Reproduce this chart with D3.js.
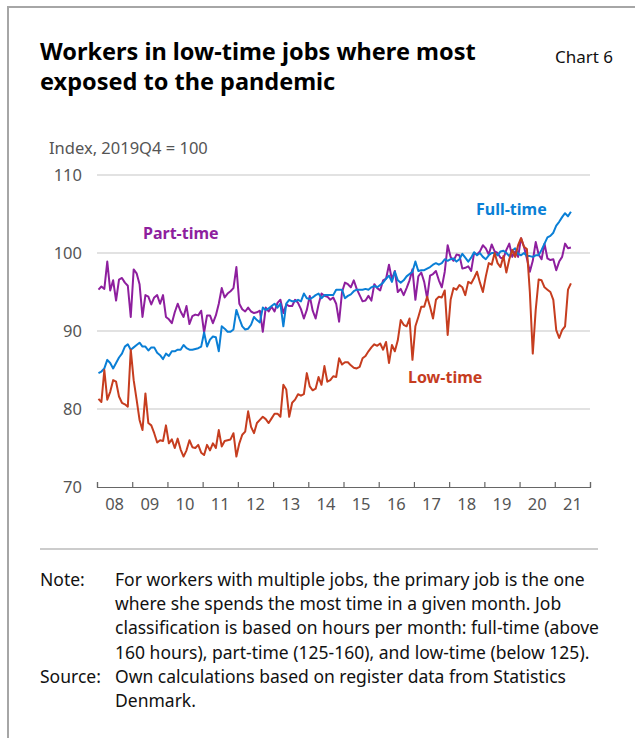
<!DOCTYPE html>
<html lang="en">
<head>
  <meta charset="UTF-8">
  <title>Workers in low-time jobs where most exposed to the pandemic</title>
  <script src="https://d3js.org/d3.v7.min.js"></script>
  <style>
    body {
      margin: 0;
      background: #fff;
      font-family: "Noto Sans", "Open Sans", Arial, sans-serif;
    }
    svg { display: block; }
  </style>
</head>
<body>
  <div id="chart"></div>
  <script>
    // monthly index, Jan 2008 .. Jun 2021 (2019Q4 = 100)
    const startYear = 2008;
    const yearLabels = ['08', '09', '10', '11', '12', '13', '14', '15', '16', '17', '18', '19', '20', '21'];
    const yTicks = [70, 80, 90, 100, 110];

    const partTime = [
      95.3, 95.7, 95.4, 98.9, 95.2, 96.5, 93.9, 96.6, 96.8, 96.2,
      95.8, 91.8, 97.9, 97.4, 96.0, 91.8, 94.6, 94.4, 93.4, 94.3,
      94.6, 93.5, 94.6, 91.8, 91.5, 91.0, 92.4, 93.5, 92.5, 91.8,
      93.2, 90.9, 91.9, 92.1, 92.0, 92.6, 89.8, 92.0, 92.0, 91.0,
      92.0, 93.5, 95.5, 94.3, 94.8, 95.1, 95.5, 98.2, 93.5, 92.8,
      92.5, 93.0, 92.5, 92.3, 92.4, 92.6, 89.9, 93.0, 92.5, 93.1,
      92.5, 93.6, 94.0, 92.3, 93.4, 93.2, 93.2, 94.0, 93.6, 92.8,
      91.6, 92.7, 94.5, 92.6, 91.6, 93.4, 94.8, 94.5, 94.4, 94.0,
      94.3, 93.5, 91.2, 95.0, 96.2, 96.0, 95.6, 96.5, 95.4, 94.6,
      93.8, 93.9, 94.5, 93.9, 96.0, 95.5, 95.2, 96.5, 96.7, 98.5,
      96.6, 97.7, 95.0, 95.4, 94.6, 95.5, 96.5, 97.9, 94.0, 97.0,
      97.5, 96.3, 94.2, 97.1, 97.3, 97.7, 96.5, 95.6, 97.6, 101.0,
      99.5, 99.0, 99.8, 99.7, 98.0, 98.1, 98.3, 97.7, 100.0, 99.8,
      100.2, 101.0, 100.6, 99.8, 101.1, 100.2, 100.0, 99.4, 99.3, 100.4,
      101.2, 99.5, 100.2, 99.5, 101.9, 100.8, 99.3, 97.6, 99.0, 101.4,
      99.8, 99.2, 101.2, 99.3, 99.1, 99.2, 97.8, 98.9, 99.5, 101.2,
      100.6, 100.7
    ];

    const fullTime = [
      84.6, 84.8, 85.2, 86.3, 85.9, 85.2, 85.9, 86.6, 87.1, 88.0,
      88.3, 87.6, 87.9, 88.2, 88.5, 88.0, 88.0, 87.5, 87.9, 87.9,
      87.2, 86.9, 86.4, 87.1, 86.8, 87.4, 87.4, 87.6, 87.6, 88.2,
      87.8, 87.6, 87.6, 87.7, 87.8, 88.0, 89.8, 88.0, 88.9, 89.3,
      89.2, 87.4, 90.6, 90.3, 89.9, 89.9, 90.2, 92.7, 91.6, 90.6,
      90.2, 90.3, 90.8, 91.8, 91.4, 91.1, 93.0, 92.7, 92.9, 93.2,
      93.5, 93.0, 93.5, 90.6, 93.5, 94.0, 93.8, 93.8, 94.0, 93.8,
      94.8, 94.2, 94.1, 94.3, 94.6, 94.8, 94.2, 94.6, 94.6, 94.6,
      94.6, 95.3, 95.3, 95.3, 94.2, 94.5, 94.7, 95.1, 95.3, 95.3,
      95.3, 95.4, 95.3, 95.6, 95.8, 95.6, 95.9, 96.2, 96.7, 97.1,
      96.3, 97.6, 96.5, 96.2, 96.5, 97.0, 97.3, 97.6, 98.9, 97.7,
      97.8, 97.8, 98.0, 98.2, 98.5, 98.7, 98.5, 98.7, 99.2, 99.0,
      99.2, 99.3, 98.9, 99.2, 99.9, 99.4, 98.9, 99.4, 100.1, 99.7,
      100.0, 99.5, 99.2, 99.7, 100.0, 100.0, 99.7, 100.2, 100.3, 100.0,
      99.6, 100.3, 100.6, 99.9, 99.7, 100.0, 99.6, 99.6, 99.5, 99.7,
      99.7, 100.4, 101.2, 102.0, 102.2, 102.6, 103.5, 104.0, 104.6, 105.1,
      104.7, 105.3
    ];

    const lowTime = [
      81.3, 80.9, 85.0, 81.2, 82.2, 83.7, 83.5, 81.6, 80.8, 80.6,
      80.3, 87.6, 83.7, 81.2, 78.6, 77.3, 82.0, 78.2, 77.9, 76.9,
      75.7, 76.0, 75.9, 77.9, 75.6, 76.1, 75.0, 76.2, 74.8, 73.9,
      74.7, 76.0, 75.1, 75.0, 75.4, 74.4, 74.1, 75.4, 74.7, 75.6,
      75.0, 77.3, 75.2, 75.9, 76.0, 76.1, 76.9, 73.9, 75.6, 76.7,
      77.1, 79.7, 77.7, 76.9, 78.2, 78.6, 79.0, 78.7, 78.2, 78.8,
      79.4, 79.4, 79.0, 83.1, 82.5, 79.0, 80.8, 81.2, 81.9, 81.7,
      81.9, 84.6, 82.9, 82.4, 82.6, 84.1, 83.1, 85.5, 83.5, 83.7,
      84.2, 84.1, 86.5, 85.7, 86.0, 86.0, 85.6, 85.3, 85.2, 85.4,
      86.5, 86.8, 87.4, 87.9, 88.3, 88.1, 88.4, 87.6, 88.6, 85.9,
      88.2, 87.4, 88.8, 91.4, 90.8, 90.6, 91.6, 86.3, 90.6, 91.8,
      93.1, 93.1, 94.4, 93.1, 91.6, 94.0, 94.4, 94.3, 95.2, 89.5,
      94.0, 95.5, 95.3, 95.9, 95.6, 94.6, 96.3, 96.1, 96.8, 97.6,
      96.2, 95.0, 97.0, 98.7, 98.5, 100.0, 98.7, 98.2, 99.6, 97.5,
      99.2, 100.4, 99.5, 101.0, 101.9, 100.8, 100.5, 95.0, 87.1, 92.7,
      96.6, 96.5, 95.6, 95.3, 95.0, 94.0, 90.1, 89.1, 90.1, 90.6,
      95.3, 96.1
    ];

    const colors = { part: '#8e1f9e', full: '#0a7fd6', low: '#c63d1f' };

    const W = 635, H = 738;
    const svg = d3.select('#chart').append('svg')
      .attr('width', W)
      .attr('height', H);

    // frame (top + left edges visible)
    svg.append('rect')
      .attr('x', 8).attr('y', 7)
      .attr('width', W + 20).attr('height', H + 20)
      .attr('fill', 'none')
      .attr('stroke', '#a6a6a6')
      .attr('stroke-width', 2);

    // title
    const title = svg.append('text')
      .attr('x', 40).attr('y', 60)
      .style('font-size', '23.5px')
      .style('font-weight', 'bold')
      .attr('fill', '#000');
    title.append('tspan').attr('x', 40).text('Workers in low-time jobs where most');
    title.append('tspan').attr('x', 40).attr('dy', 30).text('exposed to the pandemic');

    svg.append('text')
      .attr('x', 613).attr('y', 63)
      .attr('text-anchor', 'end')
      .style('font-size', '17px')
      .attr('fill', '#111')
      .text('Chart 6');

    svg.append('text')
      .attr('x', 49).attr('y', 154)
      .style('font-size', '16.5px')
      .attr('fill', '#555')
      .text('Index, 2019Q4 = 100');

    const x = d3.scaleLinear()
      .domain([startYear, startYear + yearLabels.length])
      .range([97, 590]);
    const y = d3.scaleLinear()
      .domain([70, 110])
      .range([487, 175]);

    // gridlines
    svg.append('g')
      .selectAll('line')
      .data(yTicks.filter(d => d > 70))
      .join('line')
      .attr('x1', x.range()[0]).attr('x2', x.range()[1])
      .attr('y1', d => y(d)).attr('y2', d => y(d))
      .attr('stroke', '#d9d9d9')
      .attr('stroke-width', 1.5);

    // y labels
    svg.append('g')
      .selectAll('text')
      .data(yTicks)
      .join('text')
      .attr('x', 82)
      .attr('y', d => y(d))
      .attr('dy', '0.35em')
      .attr('text-anchor', 'end')
      .style('font-size', '16.5px')
      .attr('fill', '#555')
      .text(d => d);

    // x axis: ticks at year boundaries, labels in the middle of each year
    const xAxis = d3.axisBottom(x)
      .tickValues(d3.range(startYear, startYear + yearLabels.length + 1))
      .tickSize(-5)
      .tickFormat('');
    const xg = svg.append('g')
      .attr('transform', `translate(0,${y(70)})`)
      .call(xAxis);
    xg.select('.domain').attr('stroke', '#666').attr('stroke-width', 1.2);
    xg.selectAll('.tick line').attr('stroke', '#666').attr('stroke-width', 1.2);

    svg.append('g')
      .selectAll('text')
      .data(yearLabels)
      .join('text')
      .attr('x', (d, i) => x(startYear + i + 0.5))
      .attr('y', y(70) + 17)
      .attr('dy', '0.35em')
      .attr('text-anchor', 'middle')
      .style('font-size', '16.5px')
      .attr('fill', '#555')
      .text(d => d);

    const line = d3.line()
      .x((d, i) => x(startYear + (i + 0.5) / 12))
      .y(d => y(d));

    const series = [
      { key: 'part', values: partTime },
      { key: 'full', values: fullTime },
      { key: 'low', values: lowTime }
    ];

    svg.append('g')
      .selectAll('path')
      .data(series)
      .join('path')
      .attr('d', d => line(d.values))
      .attr('fill', 'none')
      .attr('stroke', d => colors[d.key])
      .attr('stroke-width', 2)
      .attr('stroke-linejoin', 'round');

    const labels = [
      { text: 'Part-time', key: 'part', x: 143, y: 233 },
      { text: 'Full-time', key: 'full', x: 476, y: 209 },
      { text: 'Low-time', key: 'low', x: 408, y: 377 }
    ];
    svg.append('g')
      .selectAll('text')
      .data(labels)
      .join('text')
      .attr('x', d => d.x)
      .attr('y', d => d.y)
      .attr('dy', '0.35em')
      .style('font-size', '16px')
      .style('font-weight', 'bold')
      .attr('fill', d => colors[d.key])
      .text(d => d.text);

    // separator
    svg.append('line')
      .attr('x1', 40).attr('x2', 598)
      .attr('y1', 549).attr('y2', 549)
      .attr('stroke', '#999')
      .attr('stroke-width', 1);

    const noteLines = [
      ['Note:', 'For workers with multiple jobs, the primary job is the one'],
      ['', 'where she spends the most time in a given month. Job'],
      ['', 'classification is based on hours per month: full-time (above'],
      ['', '160 hours), part-time (125-160), and low-time (below 125).'],
      ['Source:', 'Own calculations based on register data from Statistics'],
      ['', 'Denmark.']
    ];
    const notes = svg.append('g')
      .selectAll('g')
      .data(noteLines)
      .join('g')
      .attr('transform', (d, i) => `translate(0,${586 + i * 24.2})`);
    notes.append('text')
      .attr('x', 40)
      .style('font-size', '17.5px')
      .attr('fill', '#111')
      .text(d => d[0]);
    notes.append('text')
      .attr('x', 115)
      .style('font-size', '17.5px')
      .attr('fill', '#111')
      .text(d => d[1]);
  </script>
</body>
</html>
